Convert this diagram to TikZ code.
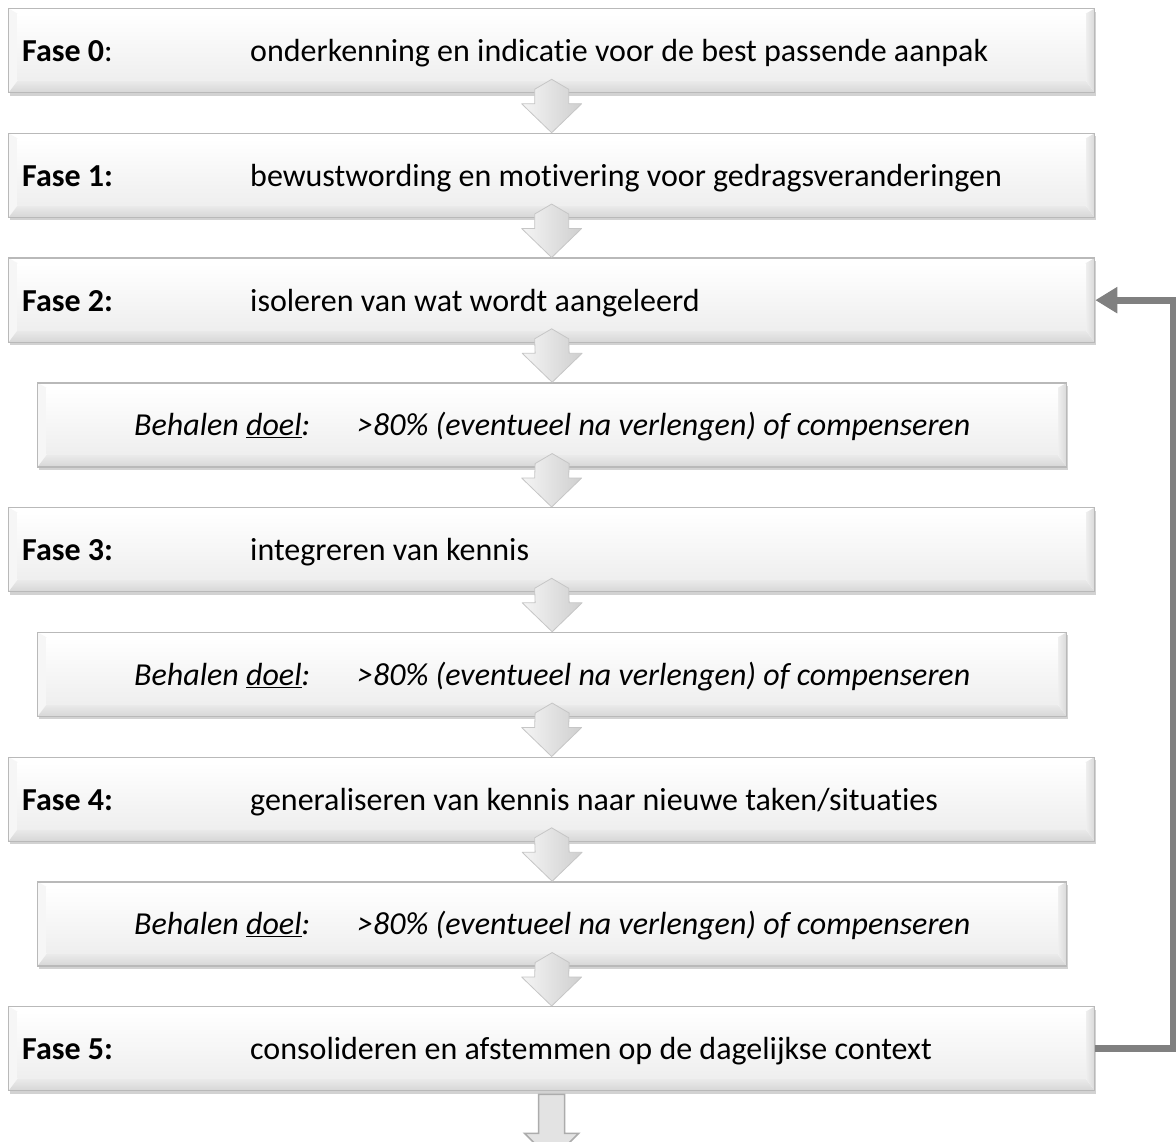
\documentclass[tikz,border=0pt]{standalone}
\usepackage{fontspec}
\setmainfont{Carlito}[RawFeature={-liga}]
\usetikzlibrary{calc,shadows,arrows.meta}

\tikzset{
  bevbox/.style={draw=gray!55, line width=1.3pt, fill=white, inner sep=0pt,
    anchor=north west, minimum height=84pt,
    drop shadow={shadow xshift=1.5pt, shadow yshift=-3pt, opacity=.5, fill=gray!70},
    path picture={
      \path (path picture bounding box.south west) coordinate (pSW)
            (path picture bounding box.north east) coordinate (pNE);
      \path (pSW -| pNE) coordinate (pSE) (pNE -| pSW) coordinate (pNW);
      \path ($(pSW)+(9pt,12pt)$) coordinate (iSW)
            ($(pSE)+(-9pt,12pt)$) coordinate (iSE)
            ($(pNE)+(-9pt,-5pt)$) coordinate (iNE)
            ($(pNW)+(9pt,-5pt)$) coordinate (iNW);
      \fill[gray!7] (pNW) -- (pSW) -- (iSW) -- (iNW) -- cycle;
      \shade[top color=gray!16, bottom color=gray!32] (pSW) -- (pSE) -- (iSE) -- (iSW) -- cycle;
      \shade[left color=gray!12, right color=gray!30] (pSE) -- (pNE) -- (iNE) -- (iSE) -- cycle;
      \shade[top color=white, middle color=white, bottom color=gray!13] (iNW) rectangle (iSE);
    }},
  fasebox/.style={bevbox, minimum width=1086pt},
  doelbox/.style={bevbox, minimum width=1029pt},
  lbl/.style={anchor=base west, inner sep=0pt, font=\fontsize{32}{38}\selectfont, text=black},
  chev/.style={left color=gray!8, right color=gray!38, draw=gray!45, line width=.8pt, line join=round},
  barrow/.style={fill=gray!22, draw=gray!65, line width=1.6pt, line join=miter},
  fb/.style={draw=black!50, line width=7pt, line join=miter,
    -{Triangle[length=22pt,width=25pt]}}
}

\newcommand\chevarrow[2]{%
  \path[chev] ($(#1.south)+(0,-14)$) -- ($(#1.south)+(17,-4)$)
    -- ($(#2.north)+(17,-29)$) -- ($(#2.north)+(30,-29)$) -- (#2.north)
    -- ($(#2.north)+(-30,-29)$) -- ($(#2.north)+(-17,-29)$)
    -- ($(#1.south)+(-17,-4)$) -- cycle;}

\begin{document}
\begin{tikzpicture}[x=1pt,y=-1pt]
\useasboundingbox (0,0) rectangle (1176,1142);
\clip (0,0) rectangle (1176,1142);
\fill[white] (0,0) rectangle (1176,1142);

% boxes
\node[fasebox] (f0) at (8,8) {};
\node[fasebox] (f1) at (8,132.75) {};
\node[fasebox] (f2) at (8,257.5) {};
\node[doelbox] (b1) at (37,382.25) {};
\node[fasebox] (f3) at (8,507) {};
\node[doelbox] (b2) at (37,631.75) {};
\node[fasebox] (f4) at (8,756.5) {};
\node[doelbox] (b3) at (37,881.25) {};
\node[fasebox] (f5) at (8,1006) {};

% texts
\node[lbl] (f0a) at ($(f0.west)+(14,11)$) {\textbf{Fase 0}:};
\node[lbl] (f0b) at ($(f0.west)+(242,11)$) {onderkenning en indicatie voor de best passende aanpak};
\node[lbl] (f1a) at ($(f1.west)+(14,11)$) {\textbf{Fase 1:}};
\node[lbl] (f1b) at ($(f1.west)+(242,11)$) {bewustwording en motivering voor gedragsveranderingen};
\node[lbl] (f2a) at ($(f2.west)+(14,11)$) {\textbf{Fase 2:}};
\node[lbl] (f2b) at ($(f2.west)+(242,11)$) {isoleren van wat wordt aangeleerd};
\node[lbl] (b1a) at ($(b1.west)+(97,11)$) {\itshape Behalen \underline{doel}:};
\node[lbl] (b1b) at ($(b1.west)+(320,11)$) {\itshape >80\% (eventueel na verlengen) of compenseren};
\node[lbl] (f3a) at ($(f3.west)+(14,11)$) {\textbf{Fase 3:}};
\node[lbl] (f3b) at ($(f3.west)+(242,11)$) {integreren van kennis};
\node[lbl] (b2a) at ($(b2.west)+(97,11)$) {\itshape Behalen \underline{doel}:};
\node[lbl] (b2b) at ($(b2.west)+(320,11)$) {\itshape >80\% (eventueel na verlengen) of compenseren};
\node[lbl] (f4a) at ($(f4.west)+(14,11)$) {\textbf{Fase 4:}};
\node[lbl] (f4b) at ($(f4.west)+(242,11)$) {generaliseren van kennis naar nieuwe taken/situaties};
\node[lbl] (b3a) at ($(b3.west)+(97,11)$) {\itshape Behalen \underline{doel}:};
\node[lbl] (b3b) at ($(b3.west)+(320,11)$) {\itshape >80\% (eventueel na verlengen) of compenseren};
\node[lbl] (f5a) at ($(f5.west)+(14,11)$) {\textbf{Fase 5:}};
\node[lbl] (f5b) at ($(f5.west)+(242,11)$) {consolideren en afstemmen op de dagelijkse context};

% chevron arrows
\chevarrow{f0}{f1}
\chevarrow{f1}{f2}
\chevarrow{f2}{b1}
\chevarrow{b1}{f3}
\chevarrow{f3}{b2}
\chevarrow{b2}{f4}
\chevarrow{f4}{b3}
\chevarrow{b3}{f5}

% bottom arrow
\coordinate (fend) at ($(f5.south)+(0,69)$);
\path[barrow] ($(f5.south)+(-13,3)$) -- ($(f5.south)+(13,3)$) -- ($(f5.south)+(13,42)$)
  -- ($(f5.south)+(27,42)$) -- (fend) -- ($(f5.south)+(-27,42)$)
  -- ($(f5.south)+(-13,42)$) -- cycle;

% feedback connector
\draw[fb] (f5.east) -- ++(78,0) |- (f2.east);
\end{tikzpicture}
\end{document}
